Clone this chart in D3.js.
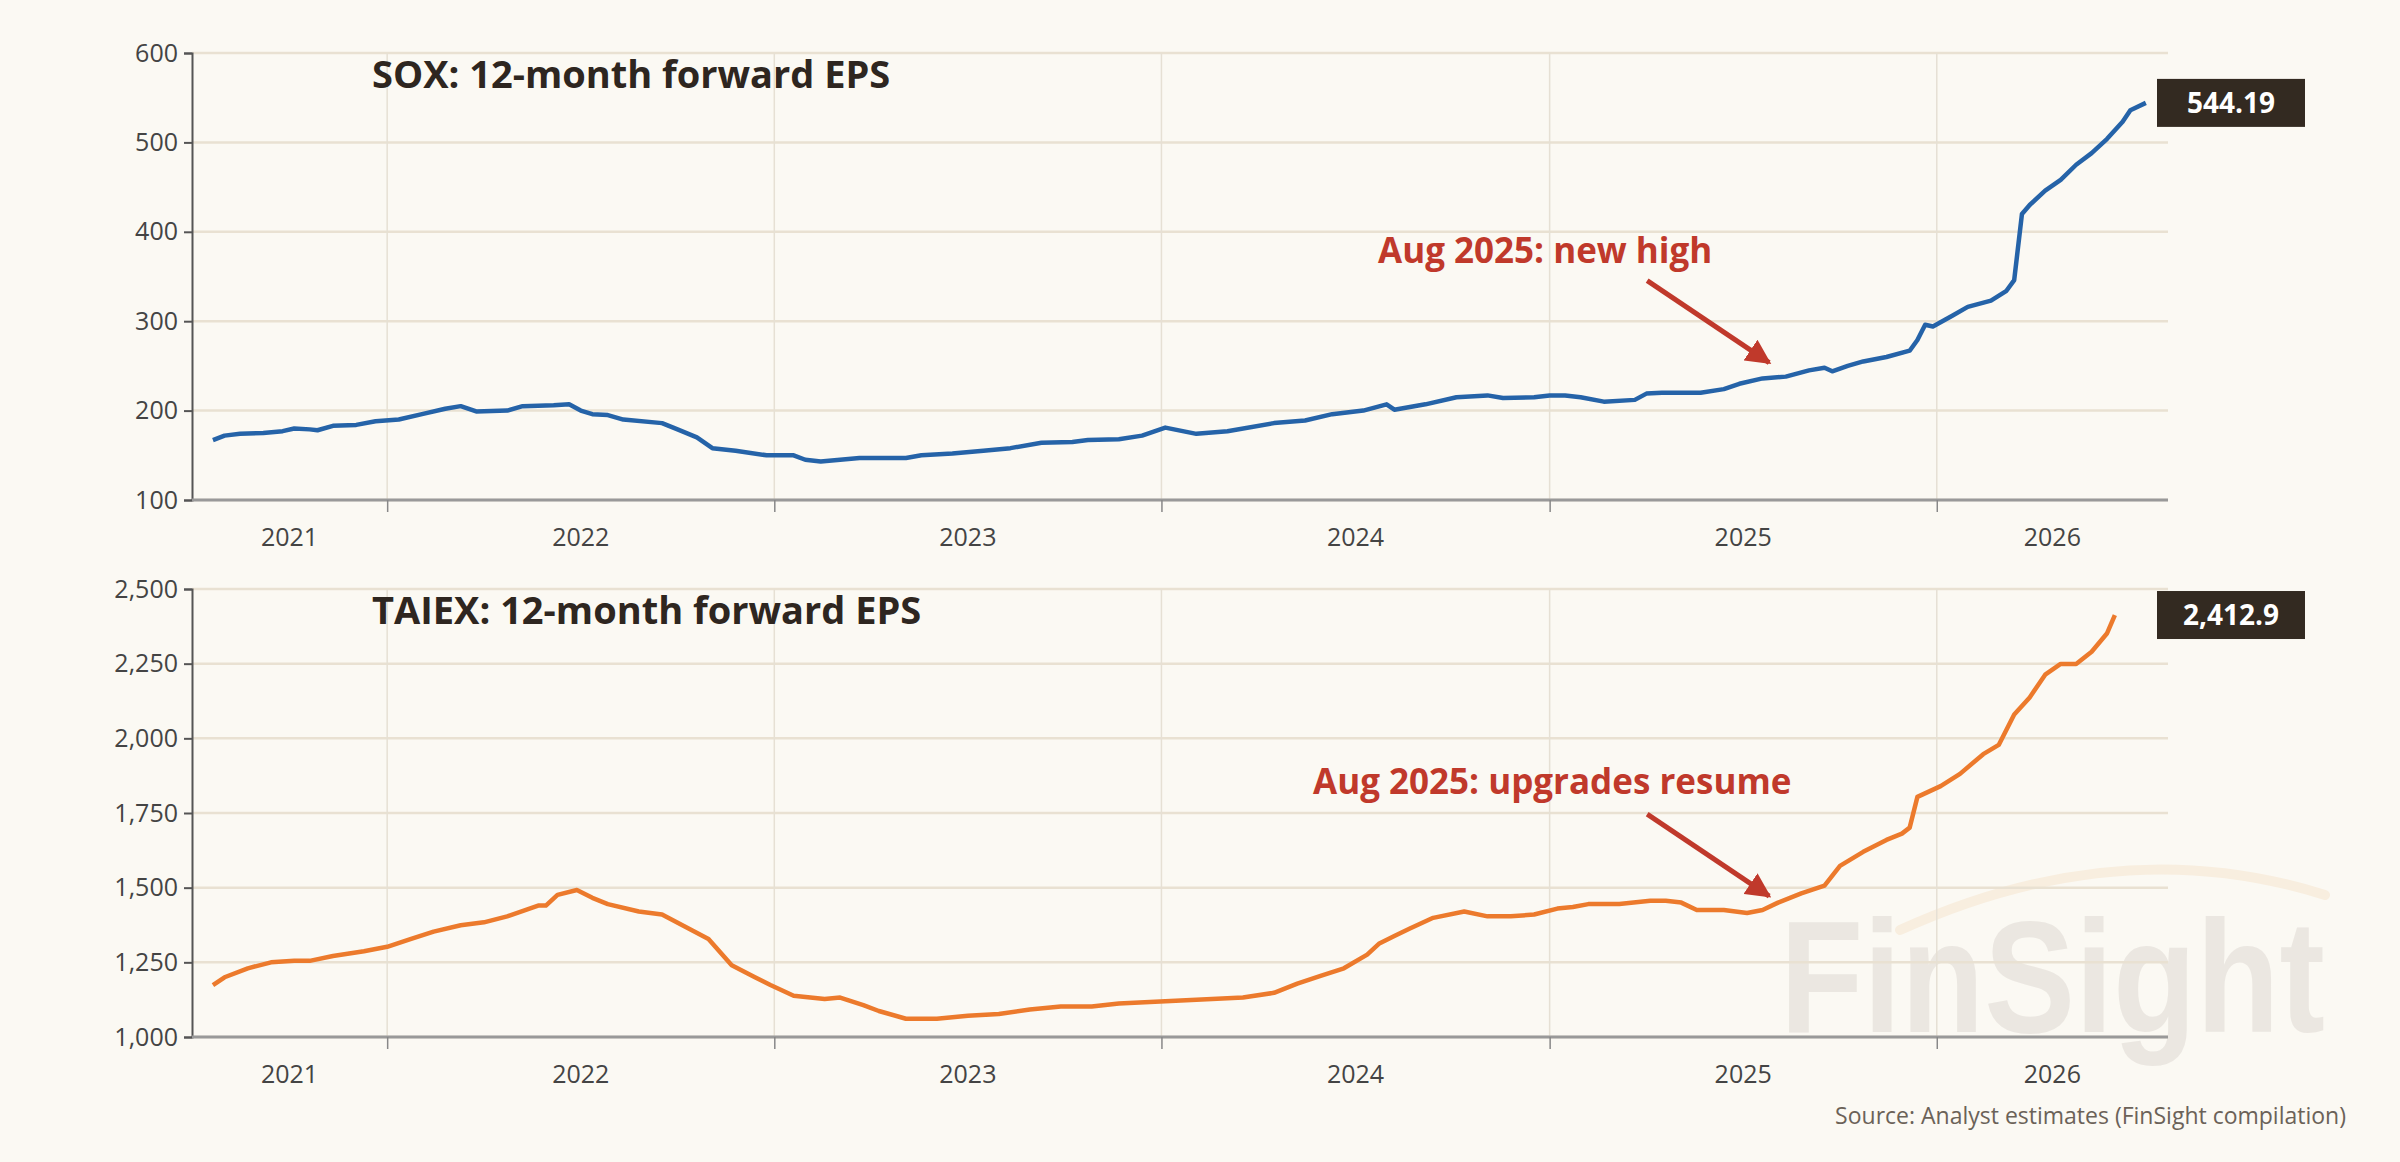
<!DOCTYPE html>
<html><head><meta charset="utf-8">
<script src="https://cdn.jsdelivr.net/npm/d3@7"></script>
<style>body{margin:0;background:#fbf9f3;}svg{display:block;}</style>
</head><body><svg id="c" width="2400" height="1162"></svg>
<script>
const soxT=[2021.55,2021.58,2021.62,2021.68,2021.73,2021.76,2021.80,2021.82,2021.86,2021.92,2021.97,2022.03,2022.09,2022.15,2022.19,2022.23,2022.31,2022.35,2022.43,2022.47,2022.50,2022.53,2022.57,2022.61,2022.71,2022.75,2022.80,2022.84,2022.90,2022.98,2023.05,2023.08,2023.12,2023.22,2023.34,2023.38,2023.46,2023.54,2023.61,2023.69,2023.77,2023.81,2023.89,2023.95,2024.01,2024.09,2024.17,2024.29,2024.37,2024.44,2024.52,2024.58,2024.60,2024.68,2024.76,2024.84,2024.88,2024.96,2025.00,2025.04,2025.08,2025.14,2025.22,2025.25,2025.29,2025.39,2025.45,2025.49,2025.55,2025.61,2025.67,2025.71,2025.73,2025.77,2025.81,2025.87,2025.93,2025.95,2025.97,2025.99,2026.04,2026.08,2026.14,2026.18,2026.20,2026.22,2026.24,2026.28,2026.32,2026.36,2026.40,2026.44,2026.48,2026.50,2026.54];
const soxV=[167,172,174,175,177,180,179,178,183,184,188,190,196,202,205,199,200,205,206,207,200,196,195,190,186,179,170,158,155,150,150,145,143,147,147,150,152,155,158,164,165,167,168,172,181,174,177,186,189,196,200,207,201,207,215,217,214,215,217,217,215,210,212,219,220,220,224,230,236,238,245,248,244,250,255,260,267,279,296,294,306,316,323,334,346,420,430,446,458,475,488,504,523,536,544.19];
const taiT=[2021.55,2021.58,2021.64,2021.70,2021.76,2021.80,2021.86,2021.94,2022.00,2022.06,2022.12,2022.19,2022.25,2022.31,2022.39,2022.41,2022.44,2022.49,2022.53,2022.57,2022.65,2022.71,2022.77,2022.83,2022.89,2022.95,2022.99,2023.05,2023.13,2023.17,2023.23,2023.27,2023.34,2023.42,2023.50,2023.58,2023.66,2023.74,2023.82,2023.89,2023.97,2024.05,2024.13,2024.21,2024.29,2024.35,2024.41,2024.47,2024.53,2024.56,2024.60,2024.64,2024.70,2024.78,2024.84,2024.90,2024.96,2025.02,2025.06,2025.10,2025.18,2025.26,2025.30,2025.34,2025.38,2025.45,2025.51,2025.55,2025.59,2025.65,2025.71,2025.75,2025.81,2025.87,2025.91,2025.93,2025.95,2026.01,2026.06,2026.12,2026.16,2026.20,2026.24,2026.28,2026.32,2026.36,2026.40,2026.44,2026.46];
const taiV=[1174,1200,1230,1250,1255,1255,1271,1287,1302,1328,1353,1374,1384,1404,1440,1440,1476,1492,1466,1445,1420,1410,1369,1328,1240,1200,1174,1138,1127,1132,1107,1087,1061,1061,1071,1077,1092,1102,1102,1112,1117,1122,1127,1132,1148,1179,1205,1230,1276,1312,1338,1363,1399,1420,1404,1404,1410,1430,1435,1445,1445,1456,1456,1450,1425,1425,1415,1425,1450,1481,1507,1573,1620,1660,1681,1701,1804,1840,1881,1947,1978,2080,2137,2213,2249,2249,2290,2352,2412.9];
const years=[2021,2022,2023,2024,2025,2026];
const soxTicks=[100,200,300,400,500,600];
const taiTicks=[1000,1250,1500,1750,2000,2250,2500];
const titles=["SOX: 12-month forward EPS","TAIEX: 12-month forward EPS"];
const notes=["Aug 2025: new high","Aug 2025: upgrades resume"];
const noteT=2025.58;

const FONT="'Open Sans',sans-serif";
const svg=d3.select("#c");
const dec2date=t=>{const y=Math.floor(t);const s=new Date(y,0,1),e=new Date(y+1,0,1);return new Date(+s+(t-y)*(e-s));};
const x=d3.scaleTime().domain([new Date(2021,6,1),new Date(2026,7,7)]).range([192,2168]);

// watermark (behind everything)
const wm=svg.append("g");
wm.append("path").attr("d","M1900,930 Q2120,830 2325,895").attr("fill","none").attr("stroke","#f8eedf").attr("stroke-width",10).attr("stroke-linecap","round");
wm.append("text").attr("x",1780).attr("y",1032).attr("font-family","'Liberation Sans',sans-serif").attr("font-weight","bold").attr("font-size",160).attr("textLength",545).attr("lengthAdjust","spacingAndGlyphs").attr("fill","#ebe7e1").text("FinSight");

function panel(T,V,ticks,domain,top,bot,color,title,fmt,lbl){
  const y=d3.scaleLinear().domain(domain).range([bot,top]);
  const g=svg.append("g");
  g.selectAll(".hg").data(ticks).join("line").attr("x1",192).attr("x2",2168).attr("y1",d=>y(d)).attr("y2",d=>y(d)).attr("stroke","#e9e1d2").attr("stroke-width",2.5);
  const yt=years.slice(1).map(yr=>new Date(yr,0,1));
  g.selectAll(".vg").data(yt).join("line").attr("x1",d=>x(d)).attr("x2",d=>x(d)).attr("y1",top).attr("y2",bot).attr("stroke","#e6e0d4").attr("stroke-width",1.5);
  const ya=g.append("g").attr("transform","translate(192,0)").call(d3.axisLeft(y).tickValues(ticks).tickFormat(fmt).tickSize(8).tickPadding(6));
  ya.select(".domain").attr("stroke","#555").attr("stroke-width",2);
  ya.selectAll(".tick line").attr("stroke","#555").attr("stroke-width",2);
  ya.selectAll("text").attr("font-family",FONT).attr("font-size",25).attr("fill","#444");
  const xa=g.append("g").attr("transform",`translate(0,${bot})`).call(d3.axisBottom(x).tickValues(yt).tickFormat("").tickSize(12));
  xa.select(".domain").attr("stroke","#999").attr("stroke-width",3).attr("d",`M192,0H2168`);
  xa.selectAll(".tick line").attr("stroke","#888").attr("stroke-width",1.5);
  g.selectAll(".yl").data(years).join("text").attr("x",yr=>{const a=Math.max(+new Date(yr,0,1),+x.domain()[0]),b=Math.min(+new Date(yr+1,0,1),+x.domain()[1]);return x(new Date((a+b)/2));}).attr("y",bot+46).attr("text-anchor","middle").attr("font-family",FONT).attr("font-size",25).attr("fill","#444").text(d=>d);
  const pts=T.map((t,i)=>({d:dec2date(t),v:V[i]}));
  g.append("path").datum(pts).attr("d",d3.line().x(p=>x(p.d)).y(p=>y(p.v))).attr("fill","none").attr("stroke",color).attr("stroke-width",4.5).attr("stroke-linejoin","round");
  g.append("text").attr("x",372).attr("y",top+35).attr("font-family",FONT).attr("font-weight","bold").attr("font-size",38).attr("fill","#2e2620").text(title);
  const last=pts[pts.length-1];
  const by=y(last.v);
  g.append("rect").attr("x",2157).attr("y",by-24).attr("width",148).attr("height",48).attr("fill","#332a21");
  g.append("text").attr("x",2231).attr("y",by+10).attr("text-anchor","middle").attr("font-family",FONT).attr("font-weight","bold").attr("font-size",28).attr("fill","#fff").text(lbl);
  return {y,g};
}
const p1=panel(soxT,soxV,soxTicks,[100,600],53,500,"#2563a8",titles[0],d3.format("d"),"544.19");
const p2=panel(taiT,taiV,taiTicks,[1000,2500],589,1037,"#ec7a2c",titles[1],d3.format(","),"2,412.9");

const defs=svg.append("defs");
defs.append("marker").attr("id","ah").attr("viewBox","0 0 10 10").attr("refX",9).attr("refY",5).attr("markerWidth",5).attr("markerHeight",5).attr("orient","auto").append("path").attr("d","M0,0L10,5L0,10z").attr("fill","#c0392b");
const red="#c0392b";
function note(text,tx,ty,yscale,vv){
  svg.append("text").attr("x",tx).attr("y",ty).attr("font-family",FONT).attr("font-weight","bold").attr("font-size",35).attr("fill",red).text(text);
  const ex=x(dec2date(noteT))-5, ey=yscale(vv)-14;
  svg.append("line").attr("x1",ex-122).attr("y1",ey-82).attr("x2",ex).attr("y2",ey).attr("stroke",red).attr("stroke-width",5).attr("marker-end","url(#ah)");
}
note(notes[0],1378,263,p1.y,238);
note(notes[1],1313,794,p2.y,1425);

svg.append("text").attr("x",2346).attr("y",1124).attr("text-anchor","end").attr("font-family",FONT).attr("font-size",23).attr("fill","#6b6258").text("Source: Analyst estimates (FinSight compilation)");
</script></body></html>
